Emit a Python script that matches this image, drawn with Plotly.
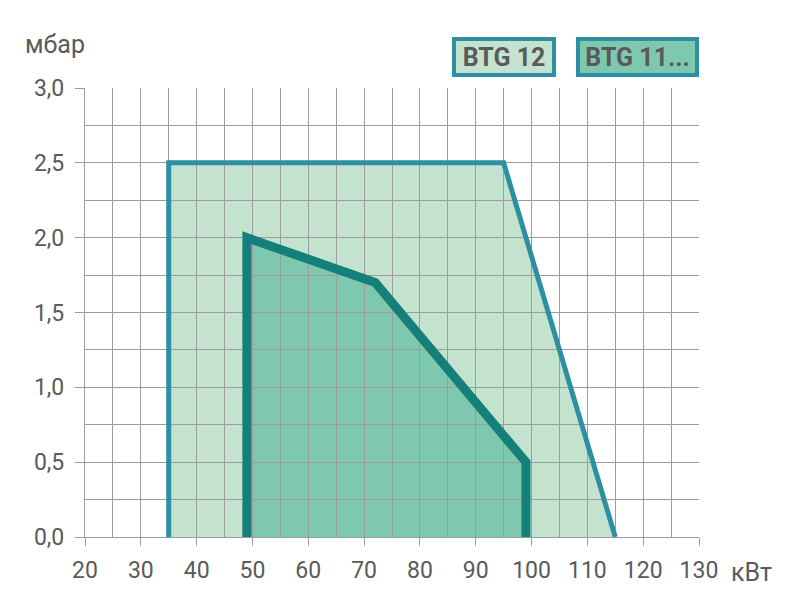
import plotly.graph_objects as go

# ---- data ----
btg12_x = [35, 35, 95, 115]
btg12_y = [0, 2.5, 2.5, 0]
btg11_x = [49, 49, 72, 99, 99]
btg11_y = [0, 2.0, 1.70, 0.5, 0]

x_ticks = [20, 30, 40, 50, 60, 70, 80, 90, 100, 110, 120, 130]
y_ticks = [0, 0.5, 1.0, 1.5, 2.0, 2.5, 3.0]
y_tick_labels = ["0,0", "0,5", "1,0", "1,5", "2,0", "2,5", "3,0"]
series_names = ["BTG 12", "BTG 11..."]

FILL_12 = "#c3e3cf"
FILL_11 = "#7fc8b0"
LINE_12 = "#2e8fa3"
LINE_11 = "#15807a"
TEXT = "#5a5a5a"
GRID = "#9c9c9c"
FONT = "Roboto"


def path_from(xs, ys):
    pts = " L ".join(f"{x},{y}" for x, y in zip(xs, ys))
    return "M " + pts + " Z"


fig = go.Figure()

fig.add_trace(go.Scatter(x=btg12_x, y=btg12_y, mode="lines",
                         line=dict(color=LINE_12, width=5),
                         name=series_names[0], showlegend=False,
                         cliponaxis=False))
fig.add_trace(go.Scatter(x=btg11_x, y=btg11_y, mode="lines",
                         line=dict(color=LINE_11, width=9),
                         name=series_names[1], showlegend=False,
                         cliponaxis=True))

fig.add_shape(type="path", path=path_from(btg12_x, btg12_y), xref="x", yref="y",
              fillcolor=FILL_12, line=dict(width=0), layer="below")
fig.add_shape(type="path", path=path_from(btg11_x, btg11_y), xref="x", yref="y",
              fillcolor=FILL_11, line=dict(width=0), layer="below")

fig.update_xaxes(range=[20, 130], tickvals=x_ticks, ticks="outside", ticklen=8,
                 tickcolor=GRID, tickwidth=1.2, ticklabelstandoff=4,
                 showgrid=True, gridcolor=GRID, gridwidth=1.2,
                 minor=dict(dtick=5, showgrid=True, gridcolor=GRID, gridwidth=1.2),
                 showline=True, linecolor=GRID, linewidth=1.2, mirror=False,
                 zeroline=False, tickfont=dict(family=FONT, size=23, color=TEXT))
fig.update_yaxes(range=[0, 3], tickvals=y_ticks, ticktext=y_tick_labels,
                 ticks="outside", ticklen=9, tickcolor=GRID, tickwidth=1.2,
                 ticklabelstandoff=6,
                 showgrid=True, gridcolor=GRID, gridwidth=1.2,
                 minor=dict(dtick=0.25, showgrid=True, gridcolor=GRID, gridwidth=1.2),
                 showline=True, linecolor=GRID, linewidth=1.2,
                 zeroline=False, tickfont=dict(family=FONT, size=23, color=TEXT))

annotations = [
    dict(text="мбар", x=-0.049, y=1.096, xref="paper", yref="paper",
         xanchor="center", yanchor="middle", showarrow=False,
         font=dict(family=FONT, size=25, color=TEXT)),
    dict(text="кВт", x=1.085, y=-0.078, xref="paper", yref="paper",
         xanchor="center", yanchor="middle", showarrow=False,
         font=dict(family=FONT, size=25, color=TEXT)),
    dict(text="<b>" + series_names[0] + "</b>", x=0.682, y=1.069,
         xref="paper", yref="paper", xanchor="center", yanchor="middle",
         showarrow=False, width=96, height=32, bgcolor=FILL_12,
         bordercolor=LINE_12, borderwidth=4, borderpad=0,
         font=dict(family=FONT, size=25, color=TEXT)),
    dict(text="<b>" + series_names[1] + "</b>", x=0.900, y=1.069,
         xref="paper", yref="paper", xanchor="center", yanchor="middle",
         showarrow=False, width=115, height=32, bgcolor=FILL_11,
         bordercolor=LINE_12, borderwidth=4, borderpad=0,
         font=dict(family=FONT, size=25, color=TEXT)),
]

fig.update_layout(width=794, height=600,
                  margin=dict(l=85, r=95, t=88, b=63),
                  plot_bgcolor="white", paper_bgcolor="white",
                  showlegend=False, annotations=annotations)

fig.write_html("out.html", config={"displayModeBar": False},
               post_script="document.body.style.margin='0';document.body.style.padding='0';")
